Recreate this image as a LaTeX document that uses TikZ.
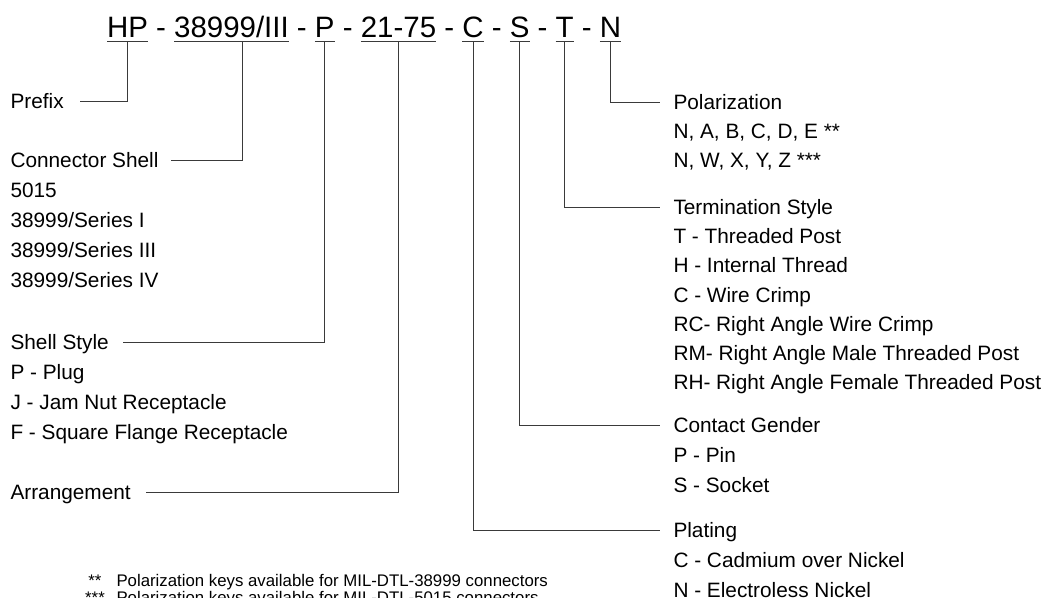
\documentclass[tikz,border=0pt]{standalone}
\usepackage{fontspec}
\setmainfont{Liberation Sans}
\usepackage{xcolor}
\definecolor{wire}{HTML}{3A3A3A}

\begin{document}
\begin{tikzpicture}[x=0.75pt,y=-0.75pt,line width=0.75pt,wire]
	\tikzset{code/.style={font=\fontsize{22.1}{26}\selectfont,text=black,inner sep=0pt,outer sep=0pt,text depth=3pt,anchor=base west},
		sep/.style={code,inner xsep=6.14pt},
		lbl/.style={font=\fontsize{15.6}{18}\selectfont,text=black,inner sep=0pt,text height=11.2pt,text depth=0pt,anchor=west},
		note/.style={font=\fontsize{12.6}{15}\selectfont,text=black,inner sep=0pt,text height=9pt,text depth=0pt}}
	\clip (0,0) rectangle (1046,597);
	\node[code] at (107,37) (hp){HP};
	\node[sep] at (hp.base east) (d1){-};
	\node[code] at (d1.base east) (ser){38999/III};
	\node[sep] at (ser.base east) (d2){-};
	\node[code] at (d2.base east) (sty){P};
	\node[sep] at (sty.base east) (d3){-};
	\node[code] at (d3.base east) (arr){21-75};
	\node[sep] at (arr.base east) (d4){-};
	\node[code] at (d4.base east) (pla){C};
	\node[sep] at (pla.base east) (d5){-};
	\node[code] at (d5.base east) (gen){S};
	\node[sep] at (gen.base east) (d6){-};
	\node[code] at (d6.base east) (ter){T};
	\node[sep] at (ter.base east) (d7){-};
	\node[code] at (d7.base east) (pol){N};
	\foreach \n in {hp,ser,sty,arr,pla,gen,ter,pol}
		\draw (\n.south west) -- (\n.south east);
	\node[lbl] at (10,101) (prefix){Prefix};
	\node[lbl] at (10,160) (shell){Connector Shell};
	\foreach \t [count=\i] in {5015,{38999/Series I},{38999/Series III},{38999/Series IV}}
		\node[lbl] at (10,160+30*\i) (shell\i){\t};
	\node[lbl] at (10,342) (style){Shell Style};
	\foreach \t [count=\i] in {P - Plug,J - Jam Nut Receptacle,F - Square Flange Receptacle}
		\node[lbl] at (10,342+30*\i) (style\i){\t};
	\node[lbl] at (10,492) (arrange){Arrangement};
	\node[lbl] at (673,102) (polar){Polarization};
	\foreach \t [count=\i] in {{N, A, B, C, D, E **},{N, W, X, Y, Z ***}}
		\node[lbl] at (673,102+29*\i) (polar\i){\t};
	\node[lbl] at (673,207) (term){Termination Style};
	\foreach \t [count=\i] in {T - Threaded Post,H - Internal Thread,C - Wire Crimp,RC- Right Angle Wire Crimp,RM- Right Angle Male Threaded Post,RH- Right Angle Female Threaded Post}
		\node[lbl] at (673,207+29.2*\i) (term\i){\t};
	\node[lbl] at (673,425) (gender){Contact Gender};
	\foreach \t [count=\i] in {P - Pin,S - Socket}
		\node[lbl] at (673,425+30*\i) (gender\i){\t};
	\node[lbl] at (673,530) (plating){Plating};
	\foreach \t [count=\i] in {C - Cadmium over Nickel,N - Electroless Nickel}
		\node[lbl] at (673,530+30*\i) (plating\i){\t};
	\node[note] at (95,580) (star2){**};
	\node[note,anchor=west] at (116,580) (fn1){Polarization keys available for MIL-DTL-38999 connectors};
	\node[note] at (95,597) (star3){***};
	\node[note,anchor=west] at (116,597) (fn2){Polarization keys available for MIL-DTL-5015 connectors};
	\draw (hp.south) |- ([xshift=12pt]prefix.east);
	\draw ([xshift=8pt]ser.south) |- ([xshift=9pt]shell.east);
	\draw (sty.south) |- ([xshift=10pt]style.east);
	\draw (arr.south) |- ([xshift=11pt]arrange.east);
	\draw (pol.south) |- ([xshift=-10pt]polar.west);
	\draw (ter.south) |- ([xshift=-10pt]term.west);
	\draw (gen.south) |- ([xshift=-10pt]gender.west);
	\draw (pla.south) |- ([xshift=-10pt]plating.west);
\end{tikzpicture}
\end{document}
